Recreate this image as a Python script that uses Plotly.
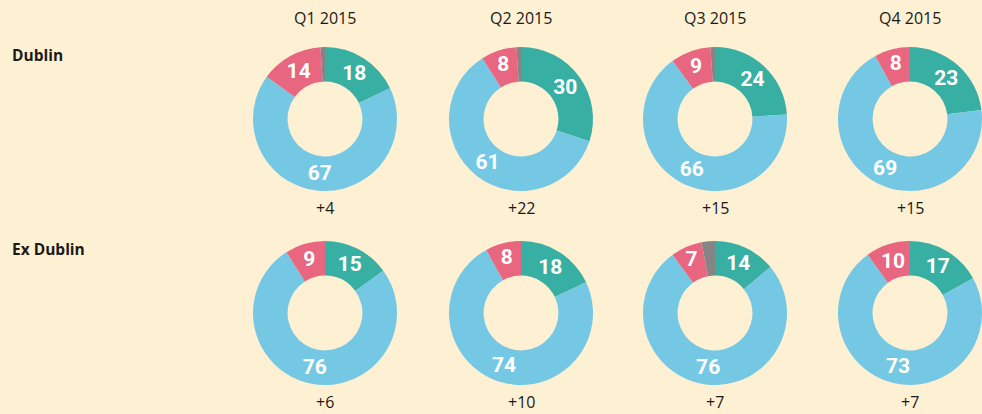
import plotly.graph_objects as go

quarters = ["Q1 2015", "Q2 2015", "Q3 2015", "Q4 2015"]
regions = ["Dublin", "Ex Dublin"]
segments = ["Teal", "Blue", "Pink", "Other"]

# values per region, per quarter: [teal, blue, pink, other]
dublin_teal = [18, 30, 24, 23]
dublin_blue = [67, 61, 66, 69]
dublin_pink = [14, 8, 9, 8]
dublin_other = [1, 1, 1, 0]

exdublin_teal = [15, 18, 14, 17]
exdublin_blue = [76, 74, 76, 73]
exdublin_pink = [9, 8, 7, 10]
exdublin_other = [0, 0, 3, 0]

dublin_net = ["+4", "+22", "+15", "+15"]
exdublin_net = ["+6", "+10", "+7", "+7"]

colors = ["#38AFA3", "#74C8E3", "#E8667F", "#858585"]
bg = "#FEF0D3"
W, H = 982, 414

col_cx = [325, 521, 715, 910]
row_cy = [119, 313]
R = 72

fig = go.Figure()

data_rows = [
    (dublin_teal, dublin_blue, dublin_pink, dublin_other, dublin_net),
    (exdublin_teal, exdublin_blue, exdublin_pink, exdublin_other, exdublin_net),
]

for ri, (t, b, p, o, net) in enumerate(data_rows):
    for ci in range(4):
        vals = [t[ci], b[ci], p[ci], o[ci]]
        txt = [str(t[ci]), str(b[ci]), str(p[ci]), ""]
        cx, cy = col_cx[ci], row_cy[ri]
        x0 = (cx - R) / W
        x1 = min((cx + R) / W, 1.0)
        y0 = 1 - (cy + R) / H
        y1 = 1 - (cy - R) / H
        fig.add_trace(go.Pie(
            labels=segments, values=vals, text=txt, textinfo="text",
            textposition="inside", insidetextorientation="horizontal",
            sort=False, direction="clockwise", rotation=0, hole=0.52,
            marker=dict(colors=colors, line=dict(width=0)),
            textfont=dict(color="white", size=21, family="Roboto", weight="bold"),
            domain=dict(x=[x0, x1], y=[y0, y1]),
            showlegend=False, hoverinfo="skip",
        ))
        fig.add_annotation(
            x=cx / W, y=1 - (cy + R + 17) / H, xref="paper", yref="paper",
            text=net[ci], showarrow=False, xanchor="center", yanchor="middle",
            font=dict(size=16, color="#1a1a1a", family="Open Sans"),
        )

for ci, q in enumerate(quarters):
    fig.add_annotation(
        x=col_cx[ci] / W, y=1 - 18 / H, xref="paper", yref="paper",
        text=q, showarrow=False, xanchor="center", yanchor="middle",
        font=dict(size=16, color="#1a1a1a", family="Open Sans"),
    )

for ri, reg in enumerate(regions):
    fig.add_annotation(
        x=10 / W, y=1 - [55, 249][ri] / H, xref="paper", yref="paper",
        text="<b>" + reg + "</b>", showarrow=False, xanchor="left", yanchor="middle",
        font=dict(size=15.5, color="#1a1a1a", family="Open Sans"),
    )

fig.update_layout(
    width=W, height=H, margin=dict(l=0, r=0, t=0, b=0),
    paper_bgcolor=bg, plot_bgcolor=bg,
    uniformtext=dict(minsize=21, mode="show"),
)

fig.write_html(
    "out.html",
    config={"displayModeBar": False},
    post_script="document.body.style.margin='0';document.body.style.padding='0';document.body.style.overflow='hidden';",
)
